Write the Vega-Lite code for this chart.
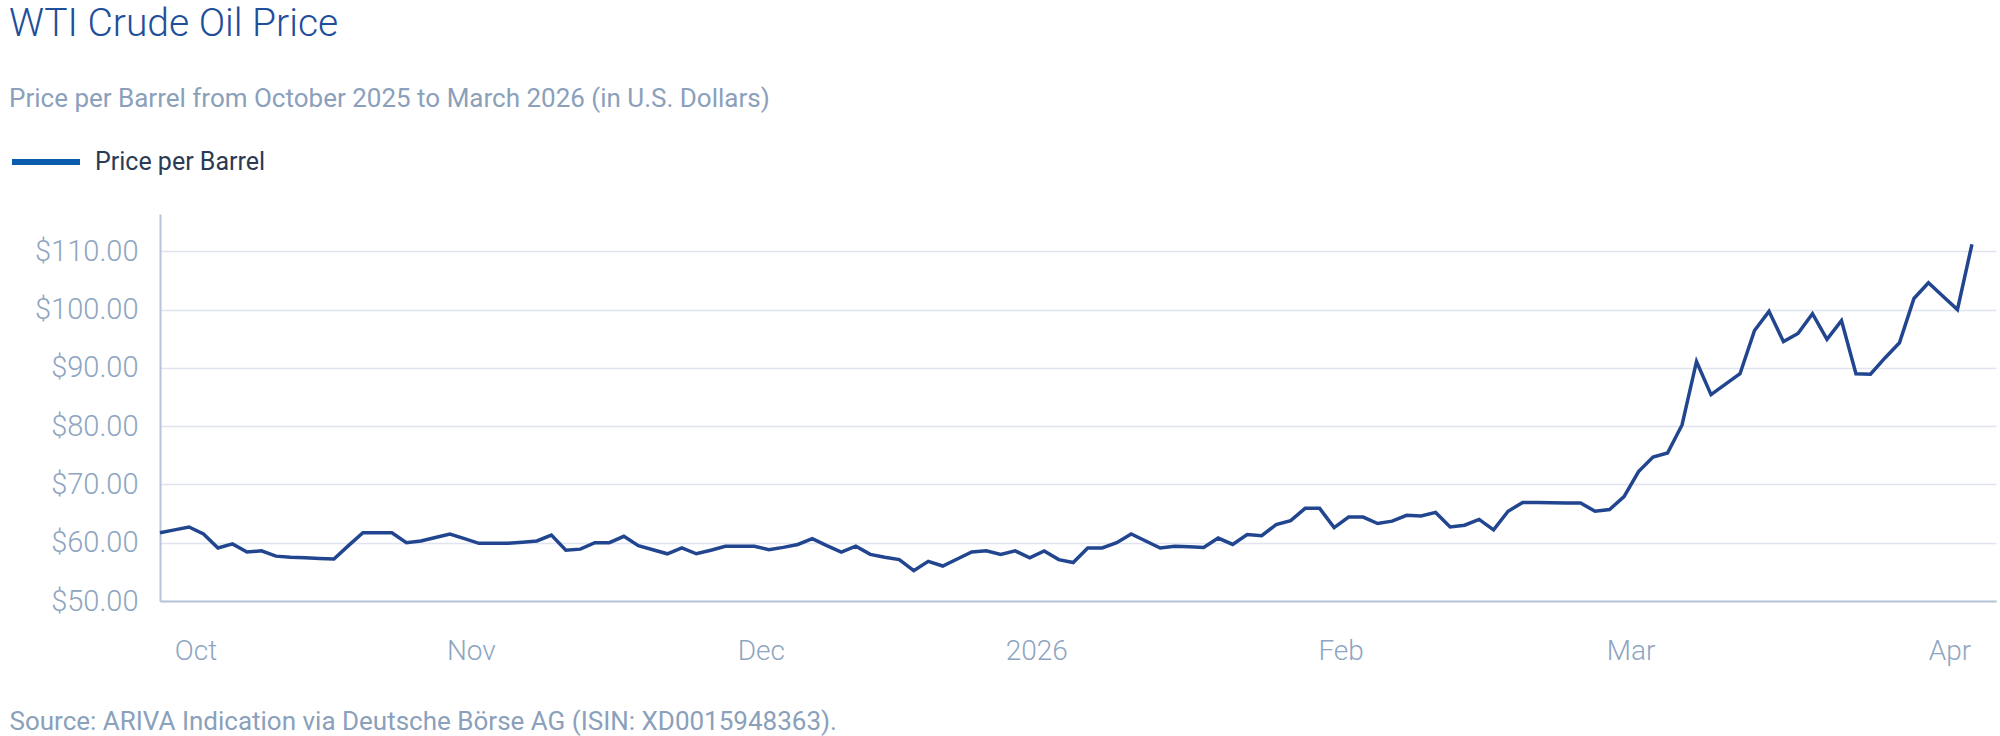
{
  "$schema": "https://vega.github.io/schema/vega-lite/v6.json",
  "autosize": "none",
  "width": 1836,
  "height": 387,
  "padding": {"left": 160, "top": 214, "right": 4, "bottom": 135},
  "background": "#ffffff",
  "title": {
    "text": "WTI Crude Oil Price",
    "subtitle": "Price per Barrel from October 2025 to March 2026 (in U.S. Dollars)",
    "anchor": "start",
    "frame": "group",
    "dx": -151,
    "offset": 13,
    "font": "Roboto",
    "fontSize": 39,
    "fontWeight": 300,
    "color": "#1f4e9b",
    "subtitleFont": "Roboto",
    "subtitleFontSize": 26,
    "subtitleColor": "#8aa0bb",
    "subtitlePadding": 42
  },
  "config": {
    "view": {"stroke": null},
    "font": "Roboto"
  },
  "data": {
    "values": [
      {"date": "2025-10-02", "price": 61.7},
      {"date": "2025-10-03", "price": 62.2},
      {"date": "2025-10-06", "price": 62.7},
      {"date": "2025-10-07", "price": 61.5},
      {"date": "2025-10-08", "price": 59.1},
      {"date": "2025-10-09", "price": 59.8},
      {"date": "2025-10-10", "price": 58.4},
      {"date": "2025-10-13", "price": 58.6},
      {"date": "2025-10-14", "price": 57.7},
      {"date": "2025-10-15", "price": 57.5},
      {"date": "2025-10-16", "price": 57.4},
      {"date": "2025-10-17", "price": 57.3},
      {"date": "2025-10-20", "price": 57.2},
      {"date": "2025-10-21", "price": 59.5},
      {"date": "2025-10-22", "price": 61.7},
      {"date": "2025-10-23", "price": 61.7},
      {"date": "2025-10-24", "price": 61.7},
      {"date": "2025-10-27", "price": 60.0},
      {"date": "2025-10-28", "price": 60.3},
      {"date": "2025-10-29", "price": 60.9},
      {"date": "2025-10-30", "price": 61.5},
      {"date": "2025-10-31", "price": 60.7},
      {"date": "2025-11-03", "price": 59.9},
      {"date": "2025-11-04", "price": 59.9},
      {"date": "2025-11-05", "price": 59.9},
      {"date": "2025-11-06", "price": 60.1},
      {"date": "2025-11-07", "price": 60.3},
      {"date": "2025-11-10", "price": 61.3},
      {"date": "2025-11-11", "price": 58.7},
      {"date": "2025-11-12", "price": 58.9},
      {"date": "2025-11-13", "price": 60.0},
      {"date": "2025-11-14", "price": 60.0},
      {"date": "2025-11-17", "price": 61.1},
      {"date": "2025-11-18", "price": 59.5},
      {"date": "2025-11-19", "price": 58.8},
      {"date": "2025-11-20", "price": 58.1},
      {"date": "2025-11-21", "price": 59.1},
      {"date": "2025-11-24", "price": 58.1},
      {"date": "2025-11-25", "price": 58.7},
      {"date": "2025-11-26", "price": 59.4},
      {"date": "2025-11-27", "price": 59.4},
      {"date": "2025-11-28", "price": 59.4},
      {"date": "2025-12-01", "price": 58.8},
      {"date": "2025-12-02", "price": 59.2},
      {"date": "2025-12-03", "price": 59.7},
      {"date": "2025-12-04", "price": 60.7},
      {"date": "2025-12-05", "price": 59.5},
      {"date": "2025-12-08", "price": 58.4},
      {"date": "2025-12-09", "price": 59.4},
      {"date": "2025-12-10", "price": 58.0},
      {"date": "2025-12-11", "price": 57.5},
      {"date": "2025-12-12", "price": 57.1},
      {"date": "2025-12-15", "price": 55.2},
      {"date": "2025-12-16", "price": 56.8},
      {"date": "2025-12-17", "price": 56.0},
      {"date": "2025-12-18", "price": 57.2},
      {"date": "2025-12-19", "price": 58.4},
      {"date": "2025-12-22", "price": 58.6},
      {"date": "2025-12-23", "price": 58.0},
      {"date": "2025-12-29", "price": 58.6},
      {"date": "2025-12-30", "price": 57.4},
      {"date": "2026-01-02", "price": 58.6},
      {"date": "2026-01-05", "price": 57.1},
      {"date": "2026-01-06", "price": 56.6},
      {"date": "2026-01-07", "price": 59.1},
      {"date": "2026-01-08", "price": 59.1},
      {"date": "2026-01-09", "price": 60.0},
      {"date": "2026-01-12", "price": 61.5},
      {"date": "2026-01-13", "price": 60.3},
      {"date": "2026-01-14", "price": 59.1},
      {"date": "2026-01-15", "price": 59.4},
      {"date": "2026-01-16", "price": 59.3},
      {"date": "2026-01-19", "price": 59.2},
      {"date": "2026-01-20", "price": 60.8},
      {"date": "2026-01-21", "price": 59.7},
      {"date": "2026-01-22", "price": 61.4},
      {"date": "2026-01-23", "price": 61.2},
      {"date": "2026-01-26", "price": 63.1},
      {"date": "2026-01-27", "price": 63.8},
      {"date": "2026-01-28", "price": 65.9},
      {"date": "2026-01-29", "price": 65.9},
      {"date": "2026-01-30", "price": 62.6},
      {"date": "2026-02-02", "price": 64.4},
      {"date": "2026-02-03", "price": 64.4},
      {"date": "2026-02-04", "price": 63.3},
      {"date": "2026-02-05", "price": 63.7},
      {"date": "2026-02-06", "price": 64.7},
      {"date": "2026-02-09", "price": 64.6},
      {"date": "2026-02-10", "price": 65.2},
      {"date": "2026-02-11", "price": 62.7},
      {"date": "2026-02-12", "price": 63.0},
      {"date": "2026-02-13", "price": 64.0},
      {"date": "2026-02-16", "price": 62.2},
      {"date": "2026-02-17", "price": 65.4},
      {"date": "2026-02-18", "price": 66.9},
      {"date": "2026-02-19", "price": 66.9},
      {"date": "2026-02-20", "price": 66.85},
      {"date": "2026-02-23", "price": 66.8},
      {"date": "2026-02-24", "price": 66.8},
      {"date": "2026-02-25", "price": 65.4},
      {"date": "2026-02-26", "price": 65.7},
      {"date": "2026-02-27", "price": 67.9},
      {"date": "2026-03-02", "price": 72.2},
      {"date": "2026-03-03", "price": 74.7},
      {"date": "2026-03-04", "price": 75.4},
      {"date": "2026-03-05", "price": 80.2},
      {"date": "2026-03-06", "price": 91.1},
      {"date": "2026-03-09", "price": 85.4},
      {"date": "2026-03-10", "price": 87.2},
      {"date": "2026-03-11", "price": 89.0},
      {"date": "2026-03-12", "price": 96.4},
      {"date": "2026-03-13", "price": 99.7},
      {"date": "2026-03-16", "price": 94.5},
      {"date": "2026-03-17", "price": 95.9},
      {"date": "2026-03-18", "price": 99.3},
      {"date": "2026-03-19", "price": 94.9},
      {"date": "2026-03-20", "price": 98.1},
      {"date": "2026-03-23", "price": 89.0},
      {"date": "2026-03-24", "price": 88.9},
      {"date": "2026-03-25", "price": 91.7},
      {"date": "2026-03-26", "price": 94.3},
      {"date": "2026-03-27", "price": 101.9},
      {"date": "2026-03-30", "price": 104.6},
      {"date": "2026-03-31", "price": 102.3},
      {"date": "2026-04-01", "price": 100.0},
      {"date": "2026-04-02", "price": 111.2}
    ]
  },
  "encoding": {
    "x": {
      "field": "date",
      "type": "ordinal",
      "sort": null,
      "scale": {"type": "point", "padding": 0.83, "align": 0},
      "axis": {
        "title": "Source: ARIVA Indication via Deutsche Börse AG (ISIN: XD0015948363).",
        "titleFont": "Roboto",
        "titleFontSize": 26,
        "titleFontWeight": 400,
        "titleColor": "#8aa0bb",
        "titleAlign": "left",
        "titleBaseline": "alphabetic",
        "titleX": -151,
        "titleY": 128,
        "values": ["2025-10-07", "2025-11-03", "2025-12-01", "2026-01-02", "2026-02-02", "2026-03-02", "2026-04-01"],
        "labelExpr": "['Oct','Nov','Dec','2026','Feb','Mar','Apr'][indexof(['2025-10-07','2025-11-03','2025-12-01','2026-01-02','2026-02-02','2026-03-02','2026-04-01'], datum.value)]",
        "labelAngle": 0,
        "labelOffset": -8,
        "labelPadding": 36,
        "labelFont": "Roboto",
        "labelFontSize": 28,
        "labelFontWeight": 300,
        "labelColor": "#8ea5c1",
        "ticks": false,
        "grid": false,
        "domainColor": "#b6c4d8",
        "domainWidth": 2
      }
    },
    "y": {
      "field": "price",
      "type": "quantitative",
      "scale": {"domain": [50, 116.4], "nice": false, "zero": false},
      "axis": {
        "title": null,
        "values": [50, 60, 70, 80, 90, 100, 110],
        "format": "$.2f",
        "labelFont": "Roboto",
        "labelFontSize": 29,
        "labelFontWeight": 300,
        "labelColor": "#8ea5c1",
        "labelPadding": 22,
        "ticks": false,
        "domainColor": "#b6c4d8",
        "domainWidth": 2,
        "gridColor": "#dfe4ee",
        "gridWidth": 1.5
      }
    }
  },
  "layer": [
    {
      "mark": {"type": "line", "strokeWidth": 1},
      "encoding": {
        "color": {
          "datum": "Price per Barrel",
          "type": "nominal",
          "scale": {"range": ["#0b5cad"]},
          "legend": {
            "title": null,
            "orient": "none",
            "legendX": -151,
            "legendY": -89,
            "symbolType": "stroke",
            "symbolSize": 4624,
            "symbolStrokeWidth": 6,
            "labelFont": "Roboto",
            "labelFontSize": 25,
            "labelColor": "#2b3a55",
            "labelOffset": 12,
            "labelLimit": 0
          }
        }
      }
    },
    {
      "mark": {"type": "line", "strokeWidth": 3.5, "color": "#21468f"},
      "encoding": {}
    }
  ]
}
